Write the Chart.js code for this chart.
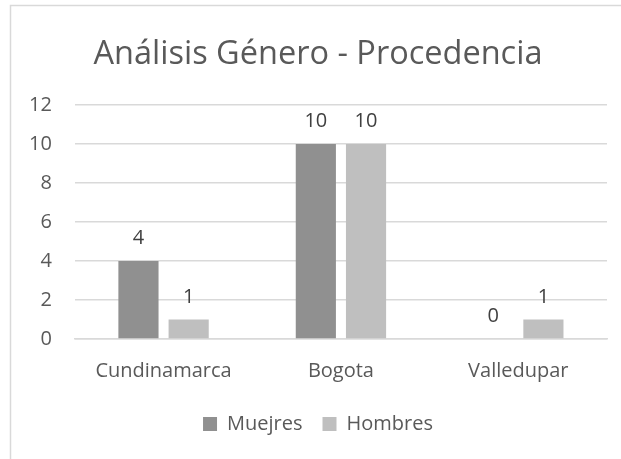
<!DOCTYPE html>
<html>
<head>
<meta charset="utf-8">
<script src="https://cdn.jsdelivr.net/npm/chart.js"></script>
<style>
  html, body { margin: 0; padding: 0; background: #fff; }
  #wrap { width: 621px; height: 459px; position: relative; }
</style>
</head>
<body>
<div id="wrap"><canvas id="chart-procedencia" width="621" height="459"></canvas></div>
<script>
var categories = ["Cundinamarca", "Bogota", "Valledupar"];
var muejres = [4, 10, 0];
var hombres = [1, 10, 1];
var seriesLabels = ["Muejres", "Hombres"];
var colors = ["#909090", "#bfbfbf"];

var fontFamily = "'Open Sans', sans-serif";
var textColor = "#595959";

// draws the value above each bar, and the light frame on the left and top
var valueLabels = {
    id: 'valueLabels',
    afterDatasetsDraw: function(chart) {
        var ctx = chart.ctx;
        ctx.save();
        ctx.font = "20px " + fontFamily;
        ctx.fillStyle = "#404040";
        ctx.textAlign = "center";
        ctx.textBaseline = "alphabetic";
        chart.data.datasets.forEach(function(ds, i) {
            chart.getDatasetMeta(i).data.forEach(function(bar, j) {
                ctx.fillText(ds.data[j], bar.x, bar.y - 17);
            });
        });
        ctx.restore();
    },
    beforeDraw: function(chart) {
        var ctx = chart.ctx;
        ctx.save();
        ctx.strokeStyle = "#d9d9d9";
        ctx.lineWidth = 1.5;
        ctx.beginPath();
        ctx.moveTo(10.5, 459);
        ctx.lineTo(10.5, 5.5);
        ctx.lineTo(621, 5.5);
        ctx.stroke();
        ctx.restore();
    }
};

var config = {
    type: 'bar',
    data: {
        labels: categories,
        datasets: [{
            label: seriesLabels[0],
            data: muejres,
            backgroundColor: colors[0],
            barPercentage: 0.8,
            categoryPercentage: 0.566
        }, {
            label: seriesLabels[1],
            data: hombres,
            backgroundColor: colors[1],
            barPercentage: 0.8,
            categoryPercentage: 0.566
        }]
    },
    options: {
        responsive: false,
        animation: false,
        layout: { padding: { left: 29, right: 14, top: 20, bottom: 15 } },
        plugins: {
            title: {
                display: true,
                text: "Análisis Género - Procedencia",
                color: textColor,
                font: { family: fontFamily, size: 32.5, weight: 'normal' },
                padding: { top: 15, bottom: 31 }
            },
            legend: {
                position: 'bottom',
                labels: {
                    color: textColor,
                    font: { family: fontFamily, size: 20 },
                    boxWidth: 14,
                    boxHeight: 14,
                    padding: 20
                }
            },
            tooltip: { enabled: false }
        },
        scales: {
            x: {
                grid: { display: false },
                border: { color: "#d9d9d9", width: 1.5 },
                ticks: { color: textColor, font: { family: fontFamily, size: 20 }, padding: 12 },
                afterFit: function(scale) {
                    scale.paddingLeft = 0;
                    scale.paddingRight = 0;
                    scale.height -= 1;
                }
            },
            y: {
                min: 0,
                max: 12,
                ticks: { stepSize: 2, color: textColor, font: { family: fontFamily, size: 20 }, padding: 23 },
                grid: { color: "#d9d9d9", lineWidth: 1.5, drawTicks: false },
                border: { display: false },
                afterFit: function(scale) { scale.width -= 23; }
            }
        }
    },
    plugins: [valueLabels]
};

var ctx = document.getElementById('chart-procedencia').getContext('2d');
window.myBar = new Chart(ctx, config);
</script>
</body>
</html>
